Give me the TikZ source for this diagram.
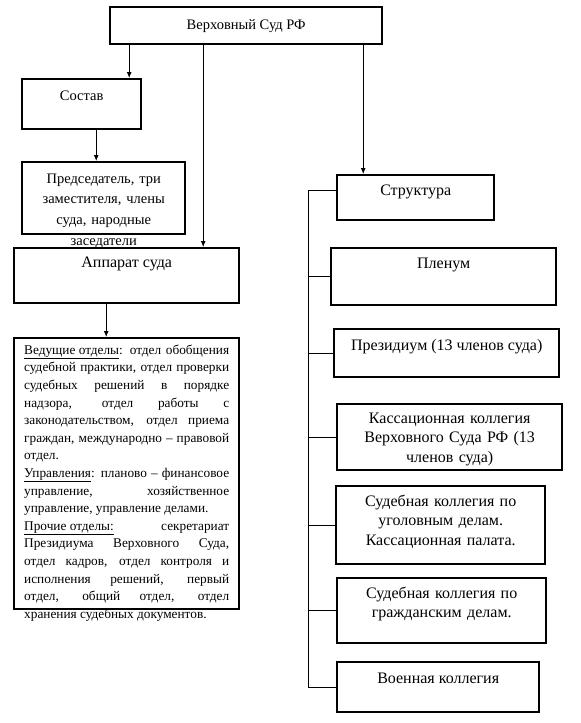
\documentclass[tikz,border=0pt]{standalone}
\usepackage{fontspec}
\setmainfont{Liberation Serif}
\usetikzlibrary{arrows.meta, positioning}
\hyphenpenalty=10000

\begin{document}
\begin{tikzpicture}[x=1pt, y=-1pt,
  box/.style={draw, line width=2.4pt, anchor=north west, inner xsep=3pt, inner ysep=0pt, align=center, font=\fontsize{14.5}{20.7}\selectfont},
  rbox/.style={box, font=\fontsize{16}{19.5}\selectfont},
  link/.style={draw, line width=0.8pt},
  arr/.style={draw, line width=0.8pt, -{Latex[length=6pt, width=5pt]}}
]
\useasboundingbox (0,0) rectangle (581,723);

% left column
\node[box, minimum width=272pt, text height=22pt, text depth=15pt] (verh) at (109,6) {Верховный Суд РФ};
\node[box, minimum width=119pt, text height=21pt, text depth=29pt] (sostav) at (21,78) {Состав};
\node[box, text width=157pt, text height=21pt, text depth=51pt] (predsed) at (21,161)
  {Председатель, три\\заместителя, члены\\суда, народные\\заседатели};
\node[box, font=\fontsize{16}{19.5}\selectfont, minimum width=225pt, text height=19pt, text depth=36pt] (apparat) at (13,247) {Аппарат суда};
\node[box, inner xsep=10pt, text width=205pt, align=justify, text height=16pt, text depth=255pt,
  font=\fontsize{13.3}{17.6}\selectfont] (otdely) at (13,337)
  {\underline{Ведущие отделы}: отдел обобщения\linebreak судебной практики, отдел проверки\linebreak
   судебных решений в порядке\linebreak надзора, отдел работы с\linebreak
   законодательством, отдел приема\linebreak граждан, международно – правовой\linebreak отдел.\par
   \underline{Управления}: планово – финансовое\linebreak управление, хозяйственное\linebreak
   управление, управление делами.\par
   \underline{Прочие отделы:} секретариат\linebreak Президиума Верховного Суда,\linebreak
   отдел кадров, отдел контроля и\linebreak исполнения решений, первый\linebreak
   отдел, общий отдел, отдел\linebreak хранения судебных документов.};

% right column
\node[rbox, minimum width=157pt, text height=20pt, text depth=25pt] (struct) at (336,174) {Структура};
\node[rbox, minimum width=225pt, text height=20pt, text depth=37pt] (plenum) at (330,247) {Пленум};
\node[rbox, minimum width=225pt, text height=21pt, text depth=27pt] (prezid) at (333,328) {Президиум (13 членов суда)};
\node[rbox, text width=219pt, text height=19pt, text depth=47pt] (kass) at (336,403)
  {Кассационная коллегия\\Верховного Суда РФ (13\\членов суда)};
\node[rbox, text width=203pt, text height=20pt, text depth=58pt] (ugol) at (335,485)
  {Судебная коллегия по\\уголовным делам.\\Кассационная палата.};
\node[rbox, text width=203pt, text height=20pt, text depth=45pt] (grazh) at (336,577)
  {Судебная коллегия по\\гражданским делам.};
\node[rbox, minimum width=202pt, text height=21pt, text depth=29pt] (voen) at (336,661) {Военная коллегия};

% arrows
\draw[arr] ([xshift=47.5pt]sostav.north |- verh.south) -- ([xshift=47.5pt]sostav.north);
\draw[arr] ([xshift=76.5pt]apparat.north |- verh.south) -- ([xshift=76.5pt]apparat.north);
\draw[arr] ([xshift=-52.5pt]struct.north |- verh.south) -- ([xshift=-52.5pt]struct.north);
\draw[arr] ([xshift=14.5pt]sostav.south) -- ([xshift=14.5pt]sostav.south |- predsed.north);
\draw[arr] ([xshift=-20.5pt]apparat.south) -- ([xshift=-20.5pt]apparat.south |- otdely.north);

% spine
\coordinate (spine) at (308,0);
\draw[link] ([yshift=7.5pt]struct.west) -| (spine |- voen.west) -- (voen.west);
\foreach \b in {plenum, prezid, kass, ugol, grazh}
  \draw[link] (spine |- \b.west) -- (\b.west);
\end{tikzpicture}
\end{document}
